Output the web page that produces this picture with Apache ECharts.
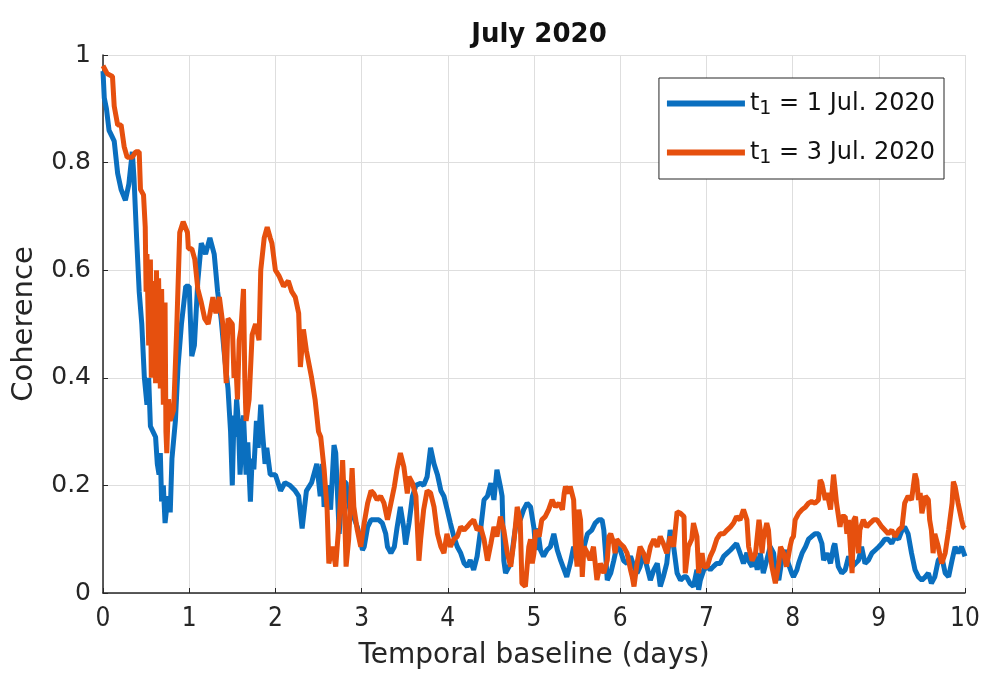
<!DOCTYPE html>
<html>
<head>
<meta charset="utf-8">
<script src="https://cdn.jsdelivr.net/npm/echarts@6/dist/echarts.min.js"></script>
<style>html,body{margin:0;padding:0;background:#fff}#c{width:982px;height:674px}</style>
</head>
<body>
<div id="c"></div>
<script>
const xTicks = [0,1,2,3,4,5,6,7,8,9,10];
const yTicks = [0,0.2,0.4,0.6,0.8,1];
const seriesNames = ['t1 = 1 Jul. 2020', 't1 = 3 Jul. 2020'];

const blueData = [
[0.00,0.97],[0.015,0.92],[0.04,0.90],[0.07,0.86],[0.10,0.85],[0.13,0.84],[0.17,0.78],[0.21,0.75],[0.26,0.73],[0.30,0.76],
[0.34,0.82],[0.36,0.77],[0.39,0.66],[0.42,0.56],[0.45,0.50],[0.48,0.40],[0.51,0.35],[0.53,0.40],[0.55,0.31],[0.58,0.30],[0.61,0.29],
[0.63,0.24],[0.65,0.22],[0.665,0.26],[0.68,0.17],[0.70,0.20],[0.72,0.13],[0.74,0.16],[0.76,0.18],[0.78,0.15],[0.80,0.25],[0.84,0.32],[0.87,0.42],[0.91,0.50],[0.96,0.57],[1.00,0.57],
[1.03,0.44],[1.06,0.46],[1.10,0.58],[1.14,0.65],[1.19,0.63],[1.24,0.66],[1.29,0.63],[1.33,0.56],[1.37,0.51],[1.41,0.44],
[1.45,0.38],[1.48,0.30],[1.50,0.20],[1.52,0.33],[1.53,0.29],[1.55,0.36],[1.57,0.32],[1.59,0.22],[1.61,0.28],[1.63,0.33],[1.66,0.22],[1.68,0.28],[1.71,0.17],[1.73,0.25],[1.75,0.23],[1.78,0.32],[1.80,0.27],
[1.83,0.35],[1.85,0.30],[1.88,0.24],[1.90,0.27],[1.94,0.22],[2.00,0.22],[2.06,0.19],[2.11,0.205],[2.17,0.20],[2.23,0.19],[2.27,0.18],[2.31,0.12],
[2.36,0.19],[2.42,0.205],[2.48,0.24],[2.52,0.18],[2.545,0.24],[2.565,0.16],[2.58,0.18],[2.60,0.20],[2.64,0.155],[2.68,0.275],
[2.70,0.26],[2.72,0.185],[2.74,0.11],[2.78,0.207],[2.82,0.205],[2.835,0.18],[2.87,0.15],[2.91,0.14],[2.95,0.123],[3.01,0.08],
[3.03,0.086],[3.07,0.123],[3.11,0.136],[3.14,0.136],[3.20,0.136],[3.24,0.13],[3.28,0.11],[3.30,0.086],[3.34,0.074],[3.38,0.086],
[3.41,0.12],[3.45,0.16],[3.49,0.12],[3.51,0.09],[3.55,0.13],[3.59,0.18],[3.63,0.20],[3.685,0.204],[3.72,0.20],[3.76,0.216],
[3.80,0.27],[3.84,0.24],[3.88,0.22],[3.92,0.19],[3.955,0.18],[3.99,0.157],[4.03,0.13],[4.07,0.105],[4.11,0.086],[4.15,0.074],
[4.19,0.055],[4.225,0.049],[4.26,0.061],[4.30,0.043],[4.34,0.068],[4.38,0.117],[4.42,0.173],[4.46,0.18],[4.50,0.204],[4.535,0.173],
[4.57,0.229],[4.61,0.198],[4.63,0.18],[4.65,0.06],[4.67,0.037],[4.73,0.055],[4.77,0.105],[4.805,0.142],[4.84,0.136],[4.88,0.155],
[4.92,0.167],[4.96,0.16],[5.00,0.12],[5.02,0.08],[5.04,0.12],[5.075,0.08],[5.11,0.068],[5.15,0.08],[5.19,0.086],[5.23,0.11],
[5.27,0.08],[5.31,0.06],[5.35,0.043],[5.38,0.03],[5.42,0.055],[5.46,0.086],[5.50,0.068],[5.54,0.074],[5.58,0.086],[5.62,0.11],
[5.67,0.117],[5.71,0.13],[5.75,0.136],[5.79,0.136],[5.81,0.117],[5.83,0.074],[5.85,0.024],[5.89,0.037],[5.925,0.06],[5.96,0.086],
[6.00,0.08],[6.04,0.06],[6.08,0.055],[6.12,0.068],[6.16,0.049],[6.195,0.037],[6.23,0.049],[6.27,0.074],[6.31,0.049],[6.35,0.024],
[6.39,0.043],[6.43,0.055],[6.465,0.012],[6.50,0.03],[6.54,0.055],[6.58,0.117],[6.62,0.086],[6.66,0.037],[6.70,0.024],[6.74,0.03],
[6.77,0.03],[6.81,0.018],[6.85,0.012],[6.89,0.043],[6.91,0.006],[6.93,0.024],[6.97,0.043],[7.01,0.049],[7.045,0.043],[7.08,0.049],
[7.12,0.055],[7.16,0.055],[7.20,0.068],[7.24,0.074],[7.28,0.08],[7.315,0.086],[7.35,0.092],[7.39,0.074],[7.43,0.055],[7.47,0.075],
[7.49,0.06],[7.53,0.049],[7.55,0.074],[7.59,0.043],[7.625,0.074],[7.66,0.037],[7.70,0.061],[7.74,0.086],[7.78,0.074],[7.80,0.043],
[7.84,0.024],[7.875,0.061],[7.915,0.08],[7.95,0.055],[7.99,0.037],[8.01,0.03],[8.05,0.043],[8.07,0.055],[8.11,0.074],[8.15,0.086],
[8.185,0.10],[8.22,0.105],[8.26,0.11],[8.30,0.11],[8.34,0.092],[8.36,0.061],[8.40,0.074],[8.44,0.055],[8.475,0.086],[8.49,0.092],
[8.53,0.049],[8.57,0.037],[8.61,0.043],[8.65,0.068],[8.69,0.049],[8.73,0.055],[8.765,0.061],[8.80,0.086],[8.84,0.055],[8.88,0.061],
[8.92,0.074],[8.96,0.08],[9.00,0.086],[9.035,0.092],[9.07,0.10],[9.11,0.10],[9.15,0.092],[9.19,0.105],[9.23,0.10],[9.27,0.117],
[9.30,0.123],[9.34,0.11],[9.38,0.074],[9.42,0.043],[9.46,0.03],[9.50,0.024],[9.54,0.03],[9.575,0.037],[9.61,0.018],[9.65,0.03],
[9.69,0.061],[9.73,0.068],[9.77,0.037],[9.81,0.03],[9.85,0.061],[9.885,0.086],[9.92,0.074],[9.96,0.086],[10.0,0.068]
];

const orangeData = [
[0.00,0.98],[0.05,0.965],[0.11,0.96],[0.13,0.905],[0.17,0.87],[0.21,0.87],[0.245,0.83],[0.28,0.81],[0.34,0.81],[0.38,0.82],
[0.42,0.82],[0.435,0.75],[0.47,0.74],[0.49,0.68],[0.50,0.56],[0.51,0.63],[0.53,0.46],[0.55,0.62],[0.56,0.40],[0.57,0.55],[0.59,0.43],[0.60,0.58],[0.61,0.39],[0.62,0.60],[0.635,0.42],[0.645,0.585],
[0.665,0.38],[0.68,0.565],[0.70,0.35],[0.72,0.54],[0.73,0.30],[0.74,0.26],[0.76,0.36],[0.78,0.32],[0.82,0.34],[0.855,0.49],[0.89,0.67],[0.93,0.69],[0.98,0.67],
[0.99,0.64],[1.03,0.64],[1.065,0.62],[1.10,0.565],[1.14,0.54],[1.18,0.51],[1.22,0.50],[1.275,0.55],[1.31,0.52],[1.35,0.55],
[1.39,0.50],[1.43,0.39],[1.45,0.51],[1.50,0.50],[1.52,0.40],[1.54,0.43],[1.56,0.36],[1.58,0.47],[1.60,0.49],[1.63,0.565],[1.645,0.40],[1.66,0.32],[1.695,0.36],
[1.73,0.48],[1.77,0.50],[1.81,0.47],[1.83,0.60],[1.87,0.66],[1.905,0.68],[1.94,0.66],[1.96,0.65],[2.00,0.60],[2.04,0.59],
[2.095,0.57],[2.15,0.58],[2.19,0.56],[2.23,0.55],[2.27,0.52],[2.29,0.42],[2.325,0.49],[2.36,0.45],[2.42,0.40],[2.46,0.36],
[2.50,0.30],[2.526,0.29],[2.565,0.23],[2.60,0.155],[2.62,0.055],[2.66,0.086],[2.70,0.049],[2.74,0.136],[2.76,0.185],[2.78,0.247],
[2.80,0.167],[2.82,0.049],[2.85,0.10],[2.89,0.232],[2.91,0.16],[2.95,0.117],[2.99,0.086],[3.03,0.13],[3.07,0.167],[3.11,0.19],
[3.14,0.185],[3.18,0.173],[3.22,0.18],[3.26,0.167],[3.30,0.136],[3.34,0.167],[3.38,0.198],[3.41,0.229],[3.45,0.26],[3.49,0.235],
[3.53,0.185],[3.55,0.216],[3.59,0.204],[3.63,0.18],[3.665,0.06],[3.685,0.10],[3.72,0.155],[3.76,0.19],[3.80,0.186],[3.84,0.16],
[3.88,0.11],[3.92,0.086],[3.955,0.074],[3.99,0.11],[4.03,0.086],[4.07,0.10],[4.11,0.105],[4.15,0.123],[4.19,0.117],[4.225,0.123],
[4.26,0.13],[4.30,0.136],[4.34,0.117],[4.38,0.123],[4.42,0.10],[4.46,0.06],[4.50,0.092],[4.535,0.123],[4.57,0.105],[4.61,0.142],
[4.65,0.117],[4.69,0.074],[4.73,0.049],[4.77,0.10],[4.805,0.16],[4.84,0.136],[4.86,0.018],[4.90,0.012],[4.94,0.086],[4.96,0.10],
[4.98,0.055],[5.00,0.074],[5.02,0.117],[5.06,0.105],[5.09,0.136],[5.13,0.142],[5.17,0.155],[5.21,0.173],[5.25,0.16],[5.29,0.167],
[5.33,0.155],[5.35,0.185],[5.365,0.198],[5.40,0.185],[5.42,0.198],[5.44,0.198],[5.46,0.173],[5.48,0.086],[5.50,0.049],[5.52,0.155],
[5.54,0.136],[5.56,0.03],[5.58,0.086],[5.62,0.074],[5.65,0.061],[5.69,0.086],[5.73,0.024],[5.77,0.055],[5.81,0.037],[5.85,0.061],
[5.87,0.105],[5.89,0.11],[5.925,0.092],[5.94,0.074],[5.96,0.10],[6.00,0.092],[6.04,0.086],[6.08,0.074],[6.12,0.043],[6.14,0.03],
[6.16,0.012],[6.195,0.055],[6.23,0.086],[6.27,0.074],[6.31,0.055],[6.35,0.086],[6.39,0.10],[6.43,0.086],[6.465,0.105],[6.50,0.092],
[6.54,0.074],[6.58,0.105],[6.62,0.086],[6.66,0.151],[6.70,0.148],[6.74,0.142],[6.755,0.037],[6.79,0.086],[6.83,0.10],[6.85,0.13],
[6.89,0.105],[6.91,0.037],[6.93,0.061],[6.95,0.074],[6.97,0.049],[7.01,0.049],[7.045,0.068],[7.08,0.08],[7.12,0.10],[7.16,0.11],
[7.20,0.11],[7.24,0.117],[7.28,0.123],[7.315,0.13],[7.35,0.142],[7.39,0.136],[7.43,0.155],[7.47,0.136],[7.49,0.086],[7.53,0.06],
[7.57,0.074],[7.61,0.136],[7.625,0.117],[7.645,0.074],[7.66,0.10],[7.70,0.13],[7.72,0.117],[7.74,0.074],[7.76,0.049],[7.80,0.018],
[7.84,0.055],[7.86,0.086],[7.895,0.074],[7.93,0.049],[7.97,0.086],[7.99,0.10],[8.01,0.105],[8.03,0.136],[8.07,0.148],[8.11,0.155],
[8.15,0.16],[8.185,0.167],[8.22,0.17],[8.26,0.167],[8.30,0.173],[8.32,0.21],[8.34,0.204],[8.38,0.173],[8.40,0.186],[8.44,0.155],
[8.475,0.22],[8.49,0.198],[8.51,0.167],[8.55,0.123],[8.57,0.142],[8.61,0.142],[8.63,0.11],[8.65,0.136],[8.69,0.037],[8.71,0.136],
[8.73,0.142],[8.765,0.074],[8.78,0.117],[8.82,0.136],[8.86,0.123],[8.90,0.13],[8.94,0.136],[8.98,0.136],[9.035,0.123],[9.07,0.117],
[9.11,0.11],[9.15,0.117],[9.19,0.105],[9.23,0.117],[9.27,0.123],[9.30,0.167],[9.34,0.18],[9.38,0.173],[9.42,0.222],[9.44,0.21],
[9.46,0.173],[9.48,0.186],[9.50,0.148],[9.54,0.18],[9.575,0.173],[9.59,0.136],[9.61,0.117],[9.63,0.074],[9.65,0.11],[9.69,0.086],
[9.73,0.055],[9.77,0.074],[9.81,0.117],[9.85,0.167],[9.865,0.207],[9.885,0.198],[9.92,0.167],[9.96,0.136],[9.98,0.123],[10.0,0.12]
];

const FONT = 'DejaVu Sans';
const NARROW = '"DejaVu Sans Condensed", "Liberation Sans Narrow", "DejaVu Sans"';
const chart = echarts.init(document.getElementById('c'), null, {renderer: 'canvas'});
const axisColor = '#262626';
const gridColor = '#dedede';
const blue = '#0a6fbf';
const orange = '#e6500e';

chart.setOption({
  animation: false,
  backgroundColor: '#ffffff',
  textStyle: {fontFamily: FONT, color: '#262626'},
  title: {
    text: 'July 2020',
    left: 534, top: 17, textAlign: 'center',
    textStyle: {fontFamily: FONT, fontSize: 26, fontWeight: 'bold', color: '#111'}
  },
  grid: {left: 103, right: 17, top: 55, bottom: 81, containLabel: false, outerBoundsMode: 'none'},
  legend: {
    orient: 'vertical', right: 38, top: 78,
    backgroundColor: '#ffffff', borderColor: '#262626', borderWidth: 1,
    padding: [10, 9, 11, 8], itemGap: 18,
    itemWidth: 78, itemHeight: 6, icon: 'rect',
    data: seriesNames,
    formatter: function (name) {
      const rest = name.slice(2);
      return '{t|t}{s|1}{t|' + rest + '}';
    },
    textStyle: {
      fontFamily: FONT, fontSize: 24, color: '#111',
      rich: {
        t: {fontFamily: FONT, fontSize: 24, color: '#111', lineHeight: 28},
        s: {fontFamily: FONT, fontSize: 19, color: '#111', lineHeight: 16, padding: [12, 0, 0, 0]}
      }
    }
  },
  xAxis: {
    type: 'value', min: xTicks[0], max: xTicks[xTicks.length - 1], interval: 1,
    name: 'Temporal baseline (days)', nameLocation: 'middle', nameGap: 49,
    nameTextStyle: {fontFamily: FONT, fontSize: 28, color: '#262626'},
    axisLine: {show: true, onZero: false, lineStyle: {color: axisColor, width: 1.5}},
    axisTick: {show: true, inside: true, length: 5, lineStyle: {color: axisColor}},
    axisLabel: {fontFamily: NARROW, fontSize: 26, color: '#262626', margin: 13},
    splitLine: {show: true, lineStyle: {color: gridColor, width: 1}}
  },
  yAxis: {
    type: 'value', min: yTicks[0], max: yTicks[yTicks.length - 1], interval: 0.2,
    name: 'Coherence', nameLocation: 'middle', nameGap: 64,
    nameTextStyle: {fontFamily: FONT, fontSize: 29, color: '#262626'},
    axisLine: {show: true, lineStyle: {color: axisColor, width: 1.5}},
    axisTick: {show: true, inside: true, length: 5, lineStyle: {color: axisColor}},
    axisLabel: {fontFamily: FONT, fontSize: 25, color: '#262626', margin: 12},
    splitLine: {show: true, lineStyle: {color: gridColor, width: 1}}
  },
  series: [
    {
      name: seriesNames[0], type: 'line', data: blueData, showSymbol: false, symbol: 'none',
      color: blue, lineStyle: {width: 5, color: blue}, itemStyle: {color: blue}, z: 2
    },
    {
      name: seriesNames[1], type: 'line', data: orangeData, showSymbol: false, symbol: 'none',
      color: orange, lineStyle: {width: 5, color: orange}, itemStyle: {color: orange}, z: 3
    }
  ]
});
</script>
</body>
</html>
